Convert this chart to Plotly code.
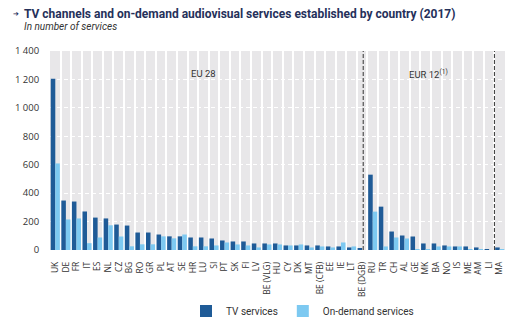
import plotly.graph_objects as go

countries = ["UK", "DE", "FR", "IT", "ES", "NL", "CZ", "BG", "RO", "GR", "PL", "AT", "SE",
             "HR", "LU", "SI", "PT", "SK", "FI", "LV", "BE (VLG)", "HU", "CY", "DK", "MT",
             "BE (CFB)", "EE", "IE", "LT", "BE (DGB)",
             "RU", "TR", "CH", "AL", "GE", "MK", "BA", "NO", "IS", "ME", "AM", "LI",
             "MA"]

tv_services = [1205, 348, 341, 271, 228, 222, 179, 172, 123, 123, 109, 96, 96,
               88, 88, 81, 67, 60, 60, 46, 46, 46, 32, 32, 32,
               32, 25, 25, 18, 8,
               530, 305, 130, 102, 95, 46, 46, 32, 25, 25, 18, 4,
               18]

on_demand = [609, 215, 222, 48, 88, 174, 95, 26, 40, 40, 96, 82, 109,
             26, 26, 32, 53, 39, 32, 18, 39, 39, 32, 39, 18,
             25, 18, 53, 25, 0,
             270, 25, 88, 81, 5, 5, 25, 25, 25, 5, 5, 0,
             5]

y_ticks = [0, 200, 400, 600, 800, 1000, 1200, 1400]
group_labels = ["EU 28", "EUR 12<sup>(1)</sup>"]

DARK = "#1f5b97"
LIGHT = "#7dc9f1"
TEXT = "#333333"
FONT = "Roboto"
TICKFONT = "Open Sans"

fig = go.Figure()
fig.add_trace(go.Bar(x=countries, y=tv_services, name="TV services",
                     marker=dict(color=DARK, line=dict(width=0))))
fig.add_trace(go.Bar(x=countries, y=on_demand, name="On-demand services",
                     marker=dict(color=LIGHT, line=dict(width=0))))

# plot area in pixels: x 50..505, y 51..250
L, R, T, B = 50, 16, 51, 71
W, H = 521, 321
pw, ph = W - L - R, H - T - B


def px(xp):
    return (xp - L) / pw


def py(yp):
    return (H - B - yp) / ph


# dashed separators between country groups
for xpos in [29.1, 41.5]:
    fig.add_shape(type="line", xref="x", yref="paper", x0=xpos, x1=xpos, y0=0, y1=1,
                  line=dict(color="#333333", width=1, dash="4px,2px"), layer="above")

annotations = [
    dict(text="<b>TV channels and on-demand audiovisual services established by country (2017)</b>",
         x=px(22), y=py(14), xanchor="left", yanchor="middle",
         font=dict(family=FONT, size=12, color="#25305a")),
    dict(text="➔", x=px(11), y=py(14), xanchor="left", yanchor="middle",
         font=dict(family="DejaVu Sans", size=7, color="#25305a")),
    dict(text="<i>In number of services</i>", x=px(22), y=py(27), xanchor="left",
         yanchor="middle", font=dict(family=FONT, size=10, color=TEXT)),
    dict(text=group_labels[0], x=14, xref="x", y=py(74), xanchor="center",
         yanchor="middle", font=dict(family=FONT, size=9.5, color=TEXT)),
    dict(text=group_labels[1], x=35.3, xref="x", y=py(74), xanchor="center",
         yanchor="middle", font=dict(family=FONT, size=9.5, color=TEXT)),
]
for a in annotations:
    a.setdefault("xref", "paper")
    a["yref"] = "paper"
    a["showarrow"] = False

fig.update_layout(
    width=W, height=H,
    margin=dict(l=L, r=R, t=T, b=B, pad=0, autoexpand=False),
    paper_bgcolor="white",
    plot_bgcolor="#e8e7e9",
    barmode="group", bargap=0.14, bargroupgap=0,
    separators=", ",
    font=dict(family=FONT, size=10, color=TEXT),
    showlegend=True,
    legend=dict(orientation="h", x=px(186), y=py(311), xanchor="left", yanchor="middle",
                font=dict(family=FONT, size=10, color=TEXT), bgcolor="rgba(0,0,0,0)",
                itemwidth=30, traceorder="normal"),
    annotations=annotations,
    xaxis=dict(type="category", range=[-0.5, 42.5], tickson="boundaries",
               tickmode="array", tickvals=countries, ticktext=countries,
               automargin=False,
               showgrid=True, gridcolor="white", gridwidth=1.5,
               ticks="", ticklabelstandoff=9,
               tickangle=-90, tickfont=dict(family=TICKFONT, size=8.5, color=TEXT),
               showline=False, zeroline=False, fixedrange=True),
    yaxis=dict(range=[0, 1400], tickvals=y_ticks, tickformat=",d", automargin=False,
               showgrid=True, gridcolor="white", gridwidth=1, griddash="4px,3px",
               zeroline=False, showline=False,
               ticks="outside", ticklen=8, tickcolor="rgba(0,0,0,0)",
               tickfont=dict(family=TICKFONT, size=9.5, color=TEXT), fixedrange=True),
)

fig.write_html("out.html")
